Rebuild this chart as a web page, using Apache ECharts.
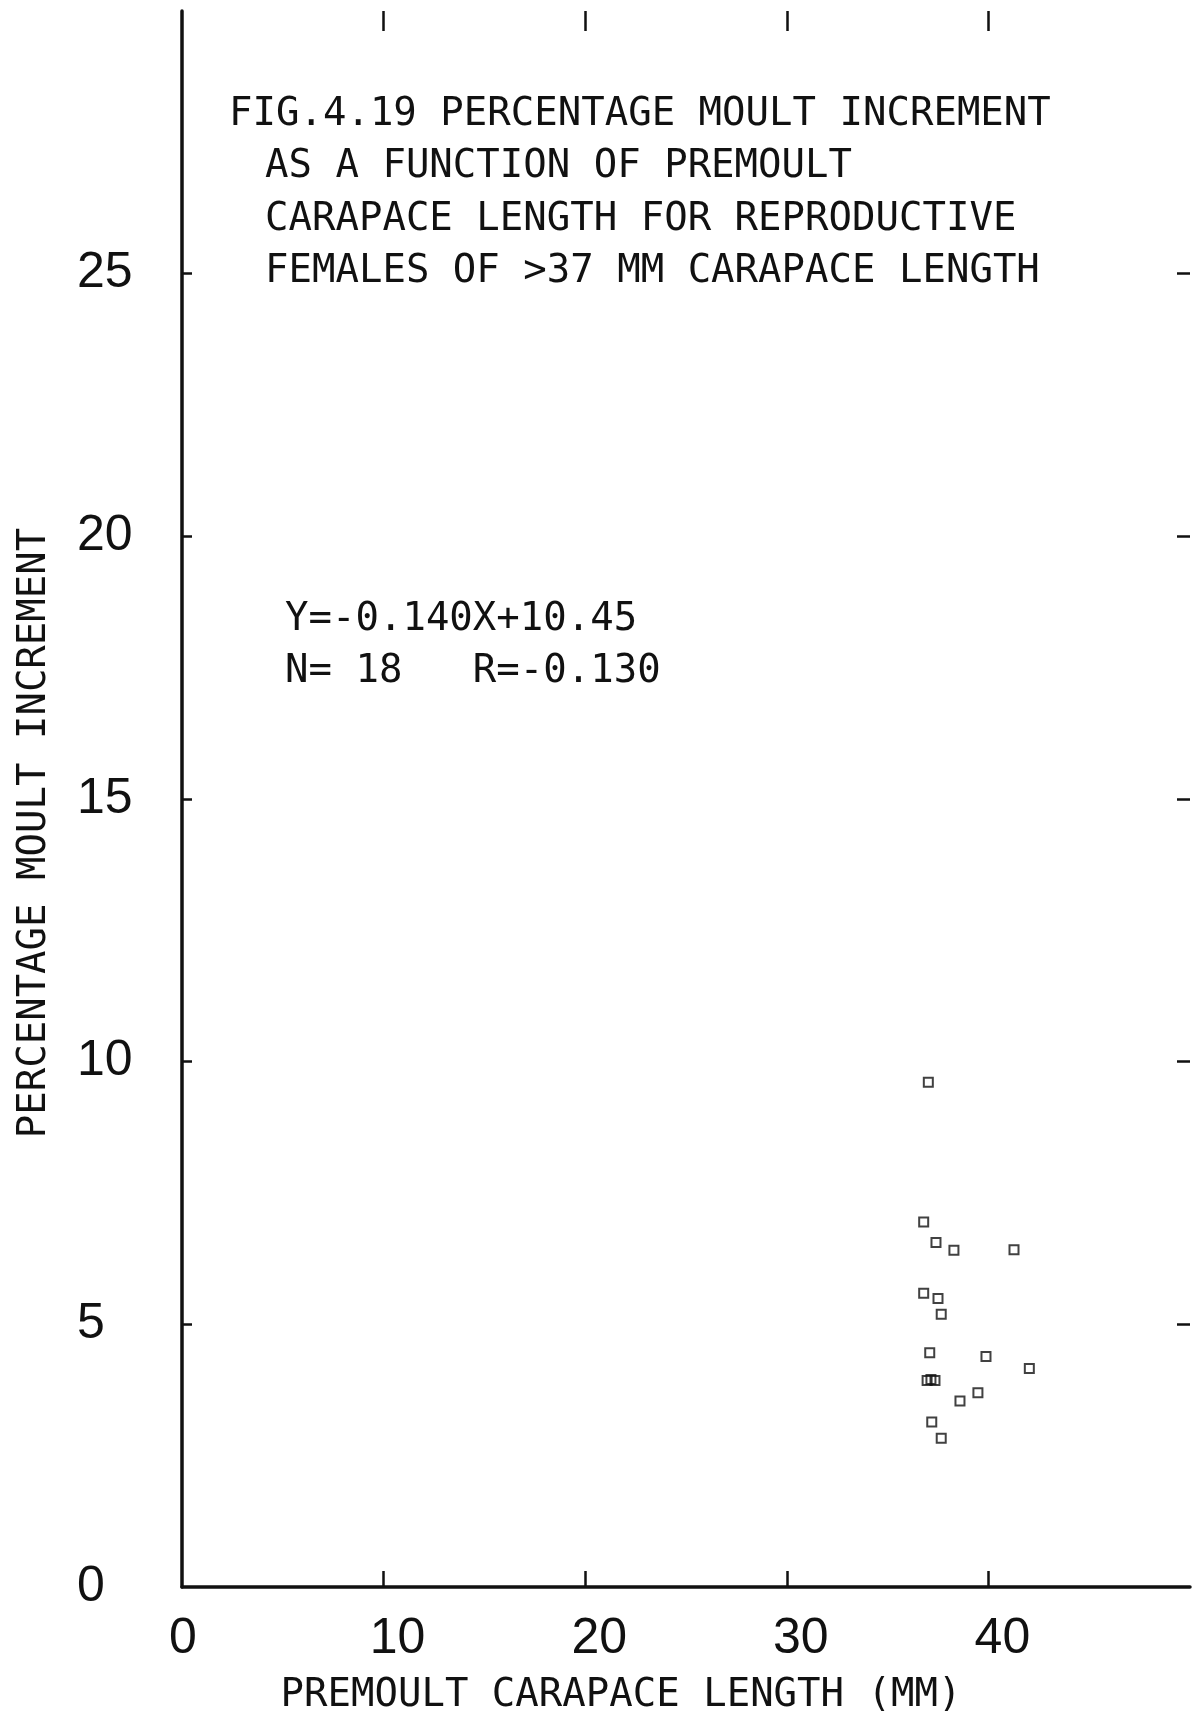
<!DOCTYPE html>
<html>
<head>
<meta charset="utf-8">
<script src="https://cdn.jsdelivr.net/npm/echarts@6/dist/echarts.min.js"></script>
<style>
html,body{margin:0;padding:0;background:#fff;}
#chart{width:1201px;height:1717px;}
</style>
</head>
<body>
<div id="chart"></div>
<script>
// Premoult carapace length (mm)
const premoultLength = [37.02, 36.79, 37.40, 38.29, 41.27, 36.79, 37.50, 37.66, 37.09, 39.88, 42.03, 36.96, 37.15, 37.35, 39.48, 38.59, 37.19, 37.66];
// Percentage moult increment
const moultIncrement = [9.61, 6.95, 6.56, 6.41, 6.42, 5.59, 5.49, 5.19, 4.46, 4.39, 4.16, 3.93, 3.95, 3.93, 3.70, 3.54, 3.14, 2.83];

const xTickLabels = [0, 10, 20, 30, 40];
const xTickMarks = [10, 20, 30, 40];
const yTickLabels = [0, 5, 10, 15, 20, 25];
const yTickMarks = [5, 10, 15, 20, 25];

const titleLines = [
  'FIG.4.19 PERCENTAGE MOULT INCREMENT',
  'AS A FUNCTION OF PREMOULT',
  'CARAPACE LENGTH FOR REPRODUCTIVE',
  'FEMALES OF >37 MM CARAPACE LENGTH'
];
const statLines = [
  'Y=-0.140X+10.45',
  'N= 18   R=-0.130'
];
const xName = 'PREMOULT CARAPACE LENGTH (MM)';
const yName = 'PERCENTAGE MOULT INCREMENT';

const INK = '#111';
const MONO = '"DejaVu Sans Mono", monospace';
const NUMF = '"Liberation Sans", Arial, sans-serif';
const NUMSIZE = 50;

const chart = echarts.init(document.getElementById('chart'), null, {renderer: 'canvas'});

const titleGraphics = titleLines.map((t, i) => ({
  type: 'text',
  x: i === 0 ? 229 : 265,
  y: 115 + i * 52.3,
  style: {text: t, font: '39px ' + MONO, fill: INK, verticalAlign: 'middle', textVerticalAlign: 'middle'}
}));
const statGraphics = statLines.map((t, i) => ({
  type: 'text',
  x: 285,
  y: 620 + i * 52,
  style: {text: t, font: '39px ' + MONO, fill: INK, verticalAlign: 'middle', textVerticalAlign: 'middle'}
}));

const hiddenLine = {show: true, onZero: false, lineStyle: {color: 'rgba(0,0,0,0)', width: 0}};

chart.setOption({
  animation: false,
  backgroundColor: '#fff',
  grid: {left: 182, right: 11, top: 11, bottom: 130, containLabel: false, outerBoundsMode: 'none'},
  xAxis: [
    {
      type: 'value', min: 0, max: 50, interval: 10, position: 'bottom',
      name: xName, nameLocation: 'middle', nameGap: 109,
      nameTextStyle: {fontFamily: MONO, fontSize: 39, color: INK, verticalAlign: 'middle', padding: [0, 130, 0, 0]},
      axisLine: {show: true, onZero: false, lineStyle: {color: INK, width: 3.5}},
      axisTick: {show: true, inside: true, length: 16, lineStyle: {color: INK, width: 2.5}, customValues: xTickMarks},
      axisLabel: {
        show: true, margin: 24, customValues: xTickLabels,
        formatter: v => (v < 10 ? '{s|' + v + '}' : '{d|' + v + '}'),
        rich: {
          s: {fontFamily: NUMF, fontSize: NUMSIZE, lineHeight: 56, color: INK, padding: [0, 0, 0, 2]},
          d: {fontFamily: NUMF, fontSize: NUMSIZE, lineHeight: 56, color: INK, padding: [0, 0, 0, 28]}
        }
      },
      splitLine: {show: false}
    },
    {
      type: 'value', min: 0, max: 50, interval: 10, position: 'top',
      axisLine: hiddenLine,
      axisTick: {show: true, inside: true, length: 20, lineStyle: {color: INK, width: 2.5}, customValues: xTickMarks},
      axisLabel: {show: false},
      splitLine: {show: false}
    }
  ],
  yAxis: [
    {
      type: 'value', min: 0, max: 30, interval: 5, position: 'left',
      name: yName, nameLocation: 'middle', nameGap: 147, nameRotate: 90,
      nameTextStyle: {fontFamily: MONO, fontSize: 39, color: INK, verticalAlign: 'middle', padding: [0, 68, 0, 0]},
      axisLine: {show: true, onZero: false, lineStyle: {color: INK, width: 3.5}},
      axisTick: {show: true, inside: true, length: 10, lineStyle: {color: INK, width: 2.5}, customValues: yTickMarks},
      axisLabel: {
        show: true, margin: 105, align: 'left', customValues: yTickLabels,
        fontFamily: NUMF, fontSize: NUMSIZE, lineHeight: 56, color: INK, padding: [0, 0, 14, 0]
      },
      splitLine: {show: false}
    },
    {
      type: 'value', min: 0, max: 30, interval: 5, position: 'right',
      axisLine: hiddenLine,
      axisTick: {show: true, inside: true, length: 13, lineStyle: {color: INK, width: 2.5}, customValues: yTickMarks},
      axisLabel: {show: false},
      splitLine: {show: false}
    }
  ],
  series: [{
    type: 'scatter',
    xAxisIndex: 0, yAxisIndex: 0,
    symbol: 'rect', symbolSize: 9,
    itemStyle: {color: 'rgba(255,255,255,0)', borderColor: INK, borderWidth: 2},
    data: premoultLength.map((x, i) => [x, moultIncrement[i]])
  }],
  graphic: titleGraphics.concat(statGraphics)
});
</script>
</body>
</html>
